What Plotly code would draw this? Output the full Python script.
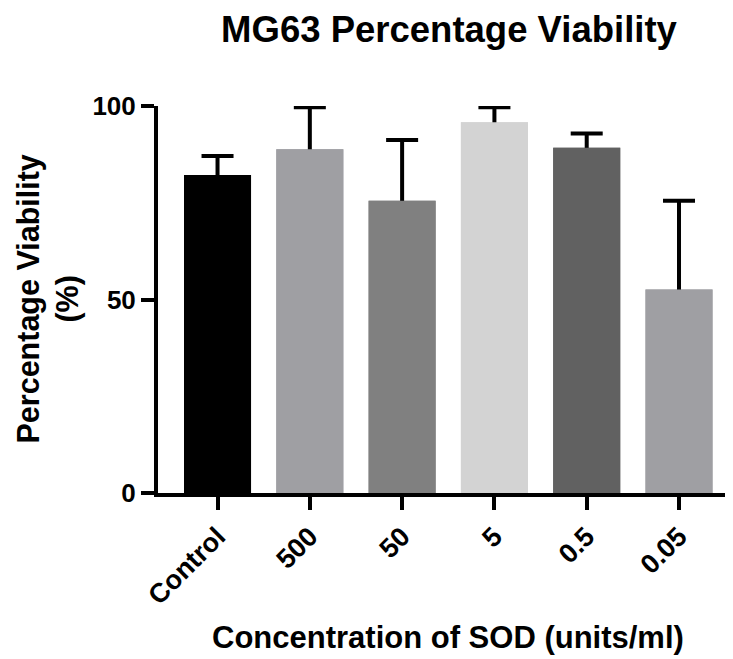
import plotly.graph_objects as go

categories = ["Control", "500", "50", "5", "0.5", "0.05"]
viability = [82.2, 88.8, 75.5, 95.8, 89.2, 52.6]
error_upper = [4.9, 10.9, 15.7, 3.9, 3.7, 22.9]
bar_colors = ["#000000", "#9f9fa3", "#808080", "#d3d3d3", "#616161", "#9f9fa3"]
y_ticks = [0, 50, 100]

FONT = "Liberation Sans, Arial, Helvetica, sans-serif"

# page body has an 8px default margin; figure is sized to fit the window
OFF = 8
W, H = 733 - OFF, 659 - OFF

# hidden shoe of the one-sided error bar sits inside the bar, covered by the top bar trace
shoe = [v * 0.5 for v in viability]

fig = go.Figure()
fig.add_trace(go.Bar(
    x=categories, y=viability,
    marker=dict(color=bar_colors, line=dict(width=0)),
    width=0.726,
    error_y=dict(type="data", symmetric=False, array=error_upper, arrayminus=shoe,
                 color="black", thickness=4, width=16),
    showlegend=False, hoverinfo="skip",
))
fig.add_trace(go.Bar(
    x=categories, y=viability,
    marker=dict(color=bar_colors, line=dict(width=0)),
    width=0.726,
    showlegend=False,
))

fig.update_layout(
    width=W, height=H,
    margin=dict(l=158 - OFF, r=0, t=106 - OFF, b=166),
    barmode="overlay",
    plot_bgcolor="white", paper_bgcolor="white",
    font=dict(family=FONT, color="black", size=26, weight="bold"),
    title=dict(text="MG63 Percentage Viability", x=(449 - OFF) / W, xanchor="center",
               y=1 - (29 - OFF) / H, yanchor="middle",
               font=dict(family=FONT, size=36.5, color="black", weight="bold")),
    xaxis=dict(range=[-0.645, 5.585], showline=True, linewidth=4, linecolor="black",
               ticks="outside", ticklen=13, tickwidth=4, tickcolor="black",
               tickangle=-45, showgrid=False, zeroline=False,
               tickfont=dict(family=FONT, size=27, color="black", weight="bold")),
    yaxis=dict(range=[0, 100], tickvals=y_ticks, showline=True, linewidth=4, linecolor="black",
               ticks="outside", ticklen=13, tickwidth=4, tickcolor="black",
               showgrid=False, zeroline=False,
               tickfont=dict(family=FONT, size=26, color="black", weight="bold")),
    annotations=[
        dict(text="Percentage Viability<br>(%)", textangle=-90, xref="paper", yref="paper",
             x=(48 - 158) / 575, y=0.5, xanchor="center", yanchor="middle", showarrow=False,
             font=dict(family=FONT, size=30.5, color="black", weight="bold")),
        dict(text="Concentration of SOD (units/ml)", xref="paper", yref="paper",
             x=(448 - 158) / 575, y=-(637 - 493) / 387, xanchor="center", yanchor="middle",
             showarrow=False,
             font=dict(family=FONT, size=31, color="black", weight="bold")),
    ],
)

fig.write_html("out.html")
